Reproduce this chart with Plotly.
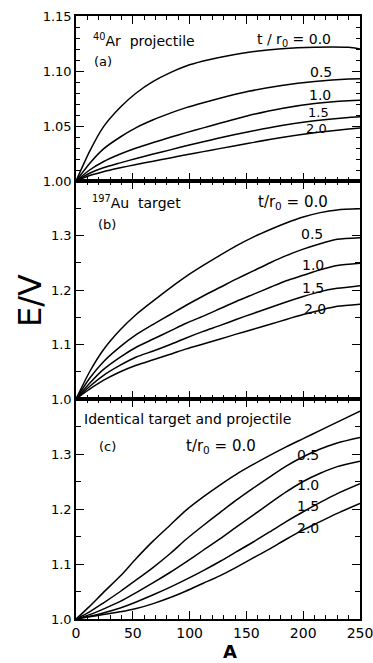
import plotly.graph_objects as go
from plotly.subplots import make_subplots

# ---------------- data ----------------
t_labels = ["0.0", "0.5", "1.0", "1.5", "2.0"]

A_a = [0, 12, 24, 39, 53, 68, 83, 97, 112, 125, 152, 181, 210, 240, 250]
Ea_00 = [1.0, 1.027, 1.049, 1.067, 1.080, 1.0905, 1.0985, 1.1045, 1.109, 1.112, 1.117, 1.1203, 1.1217, 1.1215, 1.1200]
Ea_05 = [1.0, 1.016, 1.029, 1.040, 1.0485, 1.0557, 1.0617, 1.0667, 1.0712, 1.0748, 1.0815, 1.0868, 1.0905, 1.0928, 1.0930]
Ea_10 = [1.0, 1.010, 1.0175, 1.0245, 1.030, 1.035, 1.0397, 1.044, 1.0483, 1.052, 1.0595, 1.066, 1.0705, 1.073, 1.0733]
Ea_15 = [1.0, 1.007, 1.012, 1.0165, 1.0205, 1.0245, 1.0283, 1.032, 1.0357, 1.0388, 1.0448, 1.0505, 1.0548, 1.0578, 1.0583]
Ea_20 = [1.0, 1.005, 1.0085, 1.012, 1.015, 1.018, 1.021, 1.0238, 1.0267, 1.0292, 1.0343, 1.0395, 1.0438, 1.0472, 1.0482]

A_bc = [0, 12, 24, 39, 53, 68, 83, 97, 112, 127, 141, 156, 171, 185, 200, 215, 230, 250]
Eb_00 = [1.0, 1.050, 1.090, 1.127, 1.155, 1.180, 1.204, 1.225, 1.245, 1.264, 1.281, 1.297, 1.311, 1.323, 1.334, 1.342, 1.347, 1.349]
Eb_05 = [1.0, 1.038, 1.068, 1.096, 1.118, 1.137, 1.155, 1.172, 1.189, 1.205, 1.220, 1.235, 1.250, 1.263, 1.275, 1.285, 1.293, 1.296]
Eb_10 = [1.0, 1.029, 1.054, 1.077, 1.095, 1.110, 1.125, 1.139, 1.152, 1.166, 1.179, 1.192, 1.205, 1.217, 1.227, 1.237, 1.245, 1.249]
Eb_15 = [1.0, 1.023, 1.043, 1.062, 1.077, 1.088, 1.100, 1.112, 1.124, 1.135, 1.146, 1.157, 1.168, 1.178, 1.188, 1.197, 1.203, 1.208]
Eb_20 = [1.0, 1.018, 1.034, 1.050, 1.062, 1.072, 1.082, 1.092, 1.101, 1.110, 1.119, 1.128, 1.137, 1.146, 1.155, 1.163, 1.170, 1.174]

Ec_00 = [1.0, 1.023, 1.048, 1.078, 1.110, 1.142, 1.171, 1.198, 1.222, 1.244, 1.263, 1.281, 1.298, 1.313, 1.328, 1.343, 1.358, 1.378]
Ec_05 = [1.0, 1.013, 1.029, 1.050, 1.071, 1.094, 1.119, 1.145, 1.170, 1.194, 1.216, 1.238, 1.259, 1.278, 1.295, 1.309, 1.320, 1.330]
Ec_10 = [1.0, 1.008, 1.018, 1.032, 1.048, 1.066, 1.085, 1.104, 1.125, 1.146, 1.167, 1.189, 1.211, 1.231, 1.250, 1.265, 1.277, 1.287]
Ec_15 = [1.0, 1.005, 1.011, 1.020, 1.031, 1.044, 1.058, 1.072, 1.088, 1.105, 1.122, 1.140, 1.159, 1.177, 1.195, 1.212, 1.228, 1.246]
Ec_20 = [1.0, 1.004, 1.008, 1.013, 1.019, 1.028, 1.039, 1.051, 1.065, 1.079, 1.094, 1.111, 1.128, 1.145, 1.162, 1.177, 1.192, 1.210]

x_ticks = [0, 50, 100, 150, 200, 250]
ya_ticks = [1.00, 1.05, 1.10, 1.15]
ya_ticktext = ["1.00", "1.05", "1.10", "1.15"]
ybc_ticks = [1.0, 1.1, 1.2, 1.3]
ybc_ticktext = ["1.0", "1.1", "1.2", "1.3"]

panels = [
    (1, A_a, [Ea_00, Ea_05, Ea_10, Ea_15, Ea_20]),
    (2, A_bc, [Eb_00, Eb_05, Eb_10, Eb_15, Eb_20]),
    (3, A_bc, [Ec_00, Ec_05, Ec_10, Ec_15, Ec_20]),
]

# ---------------- figure ----------------
W, H = 373, 663
L, R, T, B = 76, 13, 16, 44
FONT = "DejaVu Sans"

fig = make_subplots(rows=3, cols=1, shared_xaxes=True, vertical_spacing=0,
                    row_heights=[165, 218, 220])

for row, xs, series in panels:
    for ys in series:
        fig.add_trace(go.Scatter(x=xs, y=ys, mode="lines",
                                 line=dict(color="black", width=1.5, shape="spline", smoothing=0.7),
                                 showlegend=False, hoverinfo="skip"), row=row, col=1)

axis_common = dict(showline=True, linecolor="black", linewidth=1.6, mirror="ticks",
                   ticks="inside", tickcolor="black", tickwidth=1.2, showgrid=False,
                   zeroline=False)

for row in (1, 2, 3):
    fig.update_xaxes(range=[0, 250], tickvals=x_ticks, ticklen=8,
                     minor=dict(dtick=10, ticklen=4, ticks="inside", tickcolor="black", tickwidth=1),
                     showticklabels=(row == 3), ticklabeloverflow="allow",
                     tickfont=dict(family=FONT, size=14, color="black"),
                     row=row, col=1, **axis_common)

fig.update_yaxes(range=[1.0, 1.15], tickvals=ya_ticks, ticktext=ya_ticktext, ticklen=8,
                 minor=dict(dtick=0.01, tick0=1.0, ticklen=4, ticks="inside", tickcolor="black", tickwidth=1),
                 tickfont=dict(family=FONT, size=13, color="black"),
                 row=1, col=1, **axis_common)
for row in (2, 3):
    fig.update_yaxes(range=[1.0, 1.4], tickvals=ybc_ticks, ticktext=ybc_ticktext, ticklen=8,
                     minor=dict(dtick=0.05, tick0=1.0, ticklen=5, ticks="inside", tickcolor="black", tickwidth=1),
                     tickfont=dict(family=FONT, size=13, color="black"),
                     row=row, col=1, **axis_common)

def P(x, y):
    return (x - L) / (W - L - R), (H - B - y) / (H - T - B)

def label(text, x, y, size=13, anchor="center", **kw):
    px_, py_ = P(x, y)
    fig.add_annotation(text=text, x=px_, y=py_, xref="paper", yref="paper",
                       xanchor=anchor, yanchor="middle", showarrow=False,
                       font=dict(family=FONT, size=size, color="black"), **kw)

# panel (a)
label("<sup>40</sup>Ar  projectile", 91, 40, 14, "left")
label("(a)", 92, 62, 13, "left")
label("t / r<sub>0</sub> = " + t_labels[0], 255, 40, 14, "left")
label(t_labels[1], 321, 72, 14)
label(t_labels[2], 320, 95, 14)
label(t_labels[3], 318, 112, 13)
label(t_labels[4], 316, 128, 13)

# panel (b)
label("<sup>197</sup>Au  target", 90, 202, 14, "left")
label("(b)", 96, 224, 13, "left")
label("t/r<sub>0</sub> = " + t_labels[0], 256, 202, 15, "left")
label(t_labels[1], 312, 234, 14)
label(t_labels[2], 313, 265, 14)
label(t_labels[3], 313, 288, 14)
label(t_labels[4], 315, 309, 14)

# panel (c)
label("Identical target and projectile", 82, 419, 14, "left")
label("(c)", 97, 446, 13, "left")
label("t/r<sub>0</sub> = " + t_labels[0], 184, 446, 15, "left")
label(t_labels[1], 308, 455, 14)
label(t_labels[2], 308, 485, 14)
label(t_labels[3], 308, 506, 14)
label(t_labels[4], 308, 528, 14)

# axis titles
label("E/V", 30, 301, 32, textangle=-90)
label("<b>A</b>", 230, 651, 18)

fig.update_layout(width=W, height=H, margin=dict(l=L, r=R, t=T, b=B, autoexpand=False),
                  paper_bgcolor="white", plot_bgcolor="white",
                  font=dict(family=FONT, color="black"))

fig.write_html("out.html", config={"displayModeBar": False},
               post_script="document.body.style.margin='0';")
